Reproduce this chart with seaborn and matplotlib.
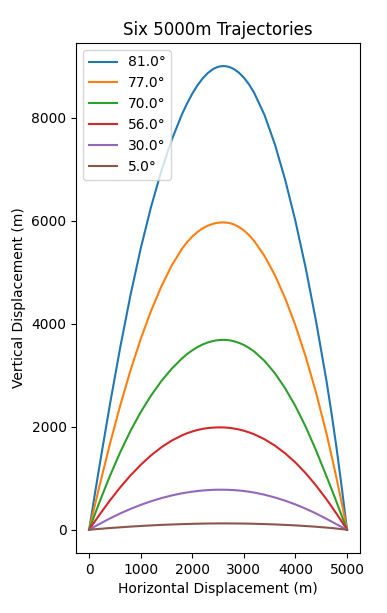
import numpy as np
import pandas as pd
import matplotlib
matplotlib.use("Agg")
import matplotlib.pyplot as plt
import seaborn as sns

# Launch angles (degrees) and trajectory points
angles = [81.0, 77.0, 70.0, 56.0, 30.0, 5.0]

x_m = [0, 100, 200, 400, 600, 800, 1000, 1200, 1400, 1600, 1800,
       1900, 2000, 2100, 2200, 2300, 2400, 2450, 2500, 2550, 2600,
       2650, 2700, 2750, 2800, 2900, 3000, 3100, 3200, 3400, 3600,
       3800, 4000, 4200, 4400, 4600, 4700, 4800, 4900, 5000]

y_81 = [0, 624, 1235, 2415, 3525, 4545, 5460, 6265, 6965, 7565, 8065,
        8277, 8465, 8626, 8760, 8865, 8940, 8966, 8985, 8996, 9000,
        8997, 8987, 8970, 8946, 8876, 8776, 8645, 8481, 8051, 7486,
        6796, 5991, 5076, 4046, 2900, 2260, 1565, 805, 0]
y_77 = [0, 428, 848, 1653, 2403, 3088, 3703, 4248, 4723, 5128, 5453,
        5583, 5691, 5780, 5850, 5902, 5938, 5950, 5959, 5964, 5966,
        5964, 5957, 5945, 5928, 5880, 5810, 5719, 5605, 5315, 4945,
        4495, 3965, 3355, 2660, 1875, 1440, 985, 505, 0]
y_70 = [0, 268, 535, 1037, 1499, 1915, 2283, 2605, 2885, 3125, 3325,
        3410, 3483, 3545, 3596, 3635, 3663, 3673, 3680, 3684, 3685,
        3684, 3679, 3672, 3661, 3630, 3587, 3530, 3460, 3278, 3040,
        2747, 2399, 1996, 1539, 1042, 790, 530, 265, 0]
y_56 = [0, 147, 290, 565, 820, 1052, 1260, 1443, 1600, 1730, 1832,
        1873, 1908, 1936, 1958, 1973, 1982, 1985, 1987, 1987, 1986,
        1983, 1979, 1973, 1966, 1947, 1922, 1890, 1853, 1757, 1634,
        1484, 1305, 1096, 858, 594, 452, 306, 156, 0]
y_30 = [0, 57, 112, 218, 315, 403, 482, 553, 614, 665, 707,
        724, 739, 751, 762, 769, 775, 776, 777, 777, 777,
        776, 775, 772, 770, 762, 752, 738, 722, 680, 627,
        564, 491, 408, 315, 212, 159, 105, 52, 0]
y_5 = [0, 9, 17, 33, 47, 61, 73, 84, 94, 102, 109,
       112, 115, 117, 119, 121, 122, 122, 123, 123, 123,
       123, 122, 122, 122, 121, 120, 118, 116, 110, 103,
       94, 84, 72, 58, 42, 33, 23, 12, 0]

series = [y_81, y_77, y_70, y_56, y_30, y_5]
colors = sns.color_palette("tab10", len(angles))

fig = plt.figure(figsize=(3.87, 6.13), dpi=100)
ax = fig.add_axes([0.197, 0.098, 0.733, 0.832])

for ang, ys, col in zip(angles, series, colors):
    sns.lineplot(x=x_m, y=ys, ax=ax, color=col, label=f"{ang:.1f}\u00b0",
                 linewidth=1.5)

ax.set_title("Six 5000m Trajectories")
ax.set_xlabel("Horizontal Displacement (m)")
ax.set_ylabel("Vertical Displacement (m)")
ax.legend(loc="upper left")

fig.savefig("out.png", dpi=100)
